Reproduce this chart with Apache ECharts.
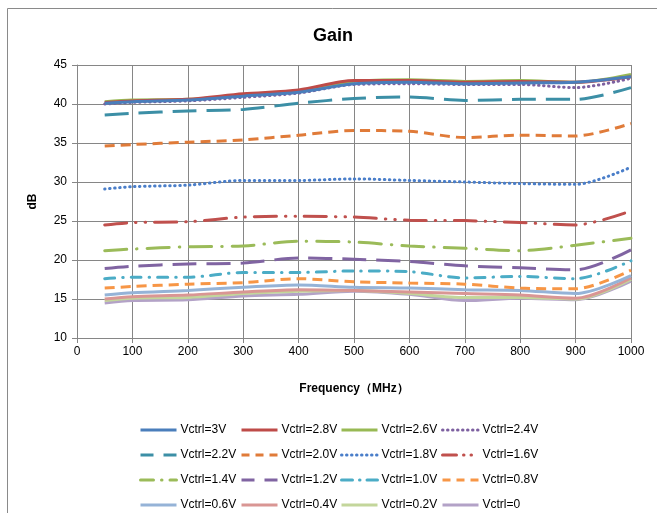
<!DOCTYPE html>
<html>
<head>
<meta charset="utf-8">
<script src="https://cdn.jsdelivr.net/npm/echarts@6/dist/echarts.min.js"></script>
<style>html,body{margin:0;padding:0;background:#fff}#c{width:657px;height:513px}</style>
</head>
<body>
<div id="c"></div>
<script>
var freqs = [50, 100, 200, 300, 400, 500, 600, 700, 800, 900, 1000];
var names = ['Vctrl=3V','Vctrl=2.8V','Vctrl=2.6V','Vctrl=2.4V','Vctrl=2.2V','Vctrl=2.0V','Vctrl=1.8V','Vctrl=1.6V','Vctrl=1.4V','Vctrl=1.2V','Vctrl=1.0V','Vctrl=0.8V','Vctrl=0.6V','Vctrl=0.4V','Vctrl=0.2V','Vctrl=0'];
var v30 = [40.1, 40.3, 40.5, 41.0, 41.5, 42.6, 42.8, 42.6, 42.7, 42.8, 43.5];
var v28 = [40.2, 40.4, 40.6, 41.3, 41.8, 43.0, 43.0, 42.8, 42.9, 42.8, 43.5];
var v26 = [40.3, 40.5, 40.6, 41.1, 41.7, 42.9, 43.1, 42.9, 43.0, 42.8, 43.8];
var v24 = [40.0, 40.2, 40.4, 40.85, 41.4, 42.5, 42.6, 42.5, 42.5, 42.1, 43.3];
var v22 = [38.6, 38.8, 39.1, 39.3, 40.1, 40.7, 40.9, 40.45, 40.6, 40.6, 42.1];
var v20 = [34.6, 34.8, 35.1, 35.4, 36.0, 36.6, 36.5, 35.7, 36.0, 35.9, 37.5];
var v18 = [29.1, 29.4, 29.6, 30.2, 30.2, 30.4, 30.2, 30.0, 29.8, 29.7, 31.9];
var v16 = [24.5, 24.8, 24.9, 25.5, 25.6, 25.5, 25.1, 25.05, 24.8, 24.5, 26.3];
var v14 = [21.2, 21.4, 21.7, 21.8, 22.4, 22.3, 21.8, 21.5, 21.2, 21.9, 22.8];
var v12 = [18.9, 19.2, 19.5, 19.6, 20.25, 20.1, 19.8, 19.25, 19.0, 18.75, 21.3];
var v10 = [17.6, 17.8, 17.8, 18.4, 18.4, 18.6, 18.5, 17.7, 17.9, 17.6, 19.9];
var v08 = [16.4, 16.6, 16.9, 17.1, 17.6, 17.2, 17.05, 16.9, 16.4, 16.3, 18.7];
var v06 = [15.5, 15.8, 16.1, 16.5, 16.8, 16.5, 16.4, 16.2, 16.1, 15.7, 18.0];
var v04 = [15.0, 15.3, 15.5, 15.9, 16.2, 16.1, 15.9, 15.7, 15.5, 15.1, 17.7];
var v02 = [14.8, 15.1, 15.2, 15.7, 16.0, 16.1, 15.7, 15.2, 15.2, 15.0, 17.5];
var v00 = [14.5, 14.8, 14.9, 15.4, 15.6, 16.0, 15.6, 14.8, 15.1, 14.9, 17.3];
var yTicks = [10, 15, 20, 25, 30, 35, 40, 45];
var xTicks = [0, 100, 200, 300, 400, 500, 600, 700, 800, 900, 1000];

var values = [v30, v28, v26, v24, v22, v20, v18, v16, v14, v12, v10, v08, v06, v04, v02, v00];
var colors = ['#4A7EBB','#BE4B48','#98B954','#7D60A0','#3C8FA6','#E07B39','#4A7EC9','#C0504D','#9BBB59','#8064A2','#4BACC6','#F79646','#95B3D7','#D99694','#C3D69B','#B3A2C7'];
var dashes = ['solid','solid','solid',[0.5,4.5],[24,10],[10,6],[0.5,4.5],[22,9,0.5,9,0.5,9],[22,10,0.5,10],[24,10],[10,8,0.5,8],[10,6],'solid','solid','solid','solid'];
var iconDashes = ['solid','solid','solid',[0.5,4.5],[13,10],[8,6],[0.5,4.5],[14,7,0.5,7,0.5,7],[13,8,0.5,8],[13,10],[11,7,0.5,7],[8,6],'solid','solid','solid','solid'];
var caps = ['butt','butt','butt','round','butt','butt','round','round','round','butt','round','butt','butt','butt','butt','butt'];

var series = names.map(function(n, i){
  return {
    name: n, type: 'line', smooth: 0.3, symbol: 'none',
    data: freqs.map(function(f, j){ return [f, values[i][j]]; }),
    lineStyle: { color: colors[i], width: 3, type: dashes[i], cap: caps[i] },
    itemStyle: { color: colors[i] },
    z: 16 - i
  };
});

var colLefts = [139, 240, 340, 441];
var rowTops = [424, 449, 474, 499];
var legends = names.map(function(n, i){
  return {
    left: colLefts[i % 4], top: rowTops[Math.floor(i / 4)], orient: 'horizontal',
    itemWidth: 36, itemHeight: 14, padding: 0,
    data: [n],
    itemStyle: { opacity: 0 },
    lineStyle: { width: 3, type: iconDashes[i] },
    textStyle: { fontFamily: 'Liberation Sans, Arial', fontSize: 12, color: '#000', padding: [0,0,0,-1] },
    selectedMode: false
  };
});

var chart = echarts.init(document.getElementById('c'), null, {renderer: 'canvas'});
chart.setOption({
  animation: false,
  backgroundColor: '#fff',
  title: { text: 'Gain', left: 308, top: 22, textStyle: { fontFamily: 'Liberation Sans, Arial', fontSize: 18, fontWeight: 'bold', color: '#000' } },
  graphic: [{ type: 'rect', shape: { x: 7.5, y: 8.5, width: 700, height: 600 }, style: { fill: 'none', stroke: '#8a8a8a', lineWidth: 1 }, silent: true }],
  grid: { left: 77, right: 26, top: 65, bottom: 175 },
  legend: legends,
  xAxis: {
    type: 'value', min: xTicks[0], max: xTicks[xTicks.length-1], interval: 100,
    name: 'Frequency（MHz）', nameLocation: 'middle', nameGap: 45,
    nameTextStyle: { fontFamily: 'Liberation Sans, Arial', fontSize: 12, fontWeight: 'bold', color: '#000' },
    axisLine: { lineStyle: { color: '#868686' } },
    axisTick: { show: true, length: 5, lineStyle: { color: '#868686' } },
    axisLabel: { fontFamily: 'Liberation Sans, Arial', fontSize: 12, color: '#000', margin: 8, formatter: function(v){ return String(v); } },
    splitLine: { show: true, lineStyle: { color: '#868686', width: 1 } }
  },
  yAxis: {
    type: 'value', min: yTicks[0], max: yTicks[yTicks.length-1], interval: 5,
    name: 'dB', nameLocation: 'middle', nameGap: 38, nameRotate: 90,
    nameTextStyle: { fontFamily: 'Liberation Sans, Arial', fontSize: 12, fontWeight: 'bold', color: '#000' },
    axisLine: { show: true, lineStyle: { color: '#868686' } },
    axisTick: { show: true, length: 5, lineStyle: { color: '#868686' } },
    axisLabel: { fontFamily: 'Liberation Sans, Arial', fontSize: 12, color: '#000', margin: 10 },
    splitLine: { show: true, lineStyle: { color: '#868686', width: 1 } }
  },
  series: series
});
</script>
</body>
</html>
